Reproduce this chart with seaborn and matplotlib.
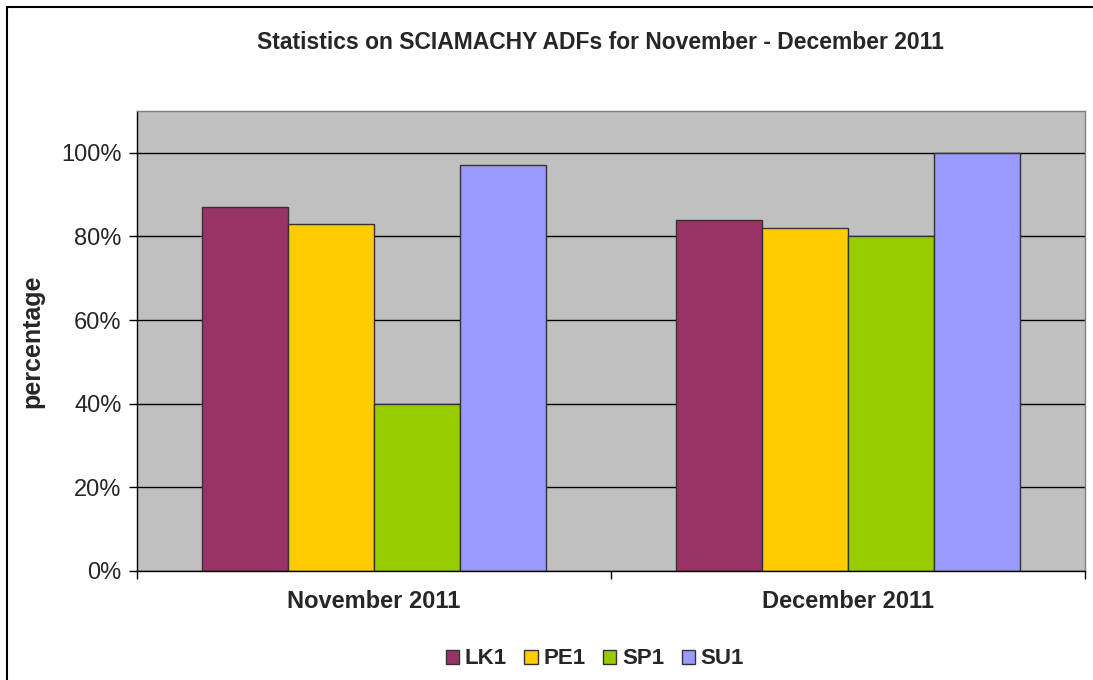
import pandas as pd
import seaborn as sns
import matplotlib.pyplot as plt
from matplotlib.lines import Line2D
from matplotlib.ticker import PercentFormatter

# Data
months = ["November 2011", "December 2011"]
products = ["LK1", "PE1", "SP1", "SU1"]
lk1 = [87, 84]
pe1 = [83, 82]
sp1 = [40, 80]
su1 = [97, 100]
colors = ["#993366", "#FFCC00", "#99CC00", "#9999FF"]

df = pd.DataFrame({
    "month": months * 4,
    "product": [p for p in products for _ in months],
    "value": lk1 + pe1 + sp1 + su1,
})

sns.set_style("white")
plt.rcParams["font.family"] = ["Liberation Sans", "DejaVu Sans"]

fig = plt.figure(figsize=(10.93, 6.8), dpi=100)
ax = fig.add_axes([0.1253, 0.1603, 0.8674, 0.6765])

sns.barplot(data=df, x="month", y="value", hue="product", order=months,
            hue_order=products, palette=colors, width=0.726, gap=0,
            edgecolor="#333333", linewidth=1, saturation=1, ax=ax)

ax.set_facecolor("#C0C0C0")
ax.set_ylim(0, 110)
ax.set_xlim(-0.5, 1.5)
ax.set_yticks([0, 20, 40, 60, 80, 100])
ax.yaxis.set_major_formatter(PercentFormatter(decimals=0))
ax.grid(axis="y", color="black", linewidth=1)
ax.set_axisbelow(True)

for side in ["top", "right"]:
    ax.spines[side].set_color("#808080")
    ax.spines[side].set_linewidth(1)
for side in ["left", "bottom"]:
    ax.spines[side].set_color("black")
    ax.spines[side].set_linewidth(1)

ax.tick_params(axis="y", left=True, length=6, width=1, color="black",
               labelsize=17, pad=5)
ax.set_xticks([0, 1])
ax.set_xticklabels(months, fontsize=17, fontweight="bold")
ax.tick_params(axis="x", bottom=False, pad=10)
ax.set_xticks([-0.5, 0.5, 1.5], minor=True)
ax.tick_params(axis="x", which="minor", bottom=True, length=6, width=1, color="black")

ax.set_xlabel("")
ax.set_ylabel("percentage", fontsize=18, fontweight="bold", labelpad=12)

fig.suptitle("Statistics on SCIAMACHY ADFs for November - December 2011",
             fontsize=16.5, fontweight="bold", y=0.955, x=0.549)

ax.legend(loc="upper center", bbox_to_anchor=(0.483, -0.125), ncol=4, frameon=False,
          prop={"weight": "bold", "size": 16}, handlelength=0.6,
          handleheight=0.6, handletextpad=0.25, columnspacing=0.8)

# outer chart border (left and top visible)
fig.add_artist(Line2D([0.0066, 0.0066], [0, 0.9897], color="black", linewidth=1.5,
                      transform=fig.transFigure))
fig.add_artist(Line2D([0.0066, 1], [0.9897, 0.9897], color="black", linewidth=1.5,
                      transform=fig.transFigure))

fig.savefig("out.png", dpi=100)
